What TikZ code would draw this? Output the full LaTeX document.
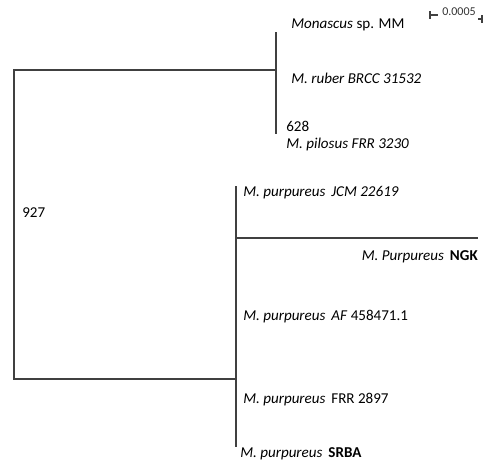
\documentclass[tikz,border=0pt]{standalone}
\usepackage{fontspec}
\setmainfont{Carlito}
\usetikzlibrary{calc}

\tikzset{branch/.style={line width=1.1pt, color=black!75},
         taxon/.style={anchor=west, inner sep=0pt, font=\fontsize{11.3}{13}\selectfont},
         boot/.style={anchor=west, inner sep=0pt, font=\fontsize{11.3}{13}\selectfont}}

\begin{document}
\begin{tikzpicture}[x=0.75pt, y=-0.75pt]

\useasboundingbox (0,0) rectangle (496,465);

% junctions
\coordinate (rootA) at (14,70);
\coordinate (rootB) at (14,379);
\coordinate (upJ) at (276,70);
\coordinate (upT) at (276,32);
\coordinate (upB) at (276,134);
\coordinate (loJ) at (236,379);
\coordinate (loT) at (236,186);
\coordinate (loB) at (236,447);
\coordinate (ngkJ) at (236,238);
\coordinate (ngkE) at (478,238);

\draw[branch] (upJ) -- (rootA) -- (rootB) -- (loJ);
\draw[branch] (upT) -- (upB);
\draw[branch] (loT) -- (loB);
\draw[branch] (ngkJ) -- (ngkE);

% taxa
\node[taxon] (mm) at (291,25) {\textit{Monascus} sp. MM};
\node[taxon] (ruber) at (291,78) {\textit{M. ruber BRCC 31532}};
\node[boot] (b628) at (286,126) {628};
\node[taxon] (pilosus) at (286,144) {\textit{M. pilosus FRR 3230}};
\node[boot] (b927) at (22,213) {927};
\node[taxon] (jcm) at (243,193) {\textit{M. purpureus}\, \textit{JCM 22619}};
\node[taxon, anchor=east] (ngk) at (478,257) {\textit{M. Purpureus}\, \textbf{NGK}};
\node[taxon] (af) at (243,317) {\textit{M. purpureus}\, \textit{AF} 458471.1};
\node[taxon] (frr) at (243,400) {\textit{M. purpureus}\, FRR 2897};
\node[taxon] (srba) at (240,454) {\textit{M. purpureus}\, \textbf{SRBA}};

% scale bar
\coordinate (sbL) at (430,15);
\coordinate (sbR) at (482,19);
\draw[line width=0.8pt, black!75] ($(sbL)+(0,-4)$) -- ($(sbL)+(0,4)$);
\draw[line width=0.8pt, black!75] (sbL) -- ($(sbL)+(8,0)$);
\draw[line width=0.8pt, black!75] ($(sbR)+(0,-4)$) -- ($(sbR)+(0,4)$);
\draw[line width=0.8pt, black!75] (sbR) -- ($(sbR)+(-4,0)$);
\node[inner sep=0pt, font=\fontsize{9}{10}\selectfont, black!80] (sbT) at (459,12) {0.0005};

\end{tikzpicture}
\end{document}
